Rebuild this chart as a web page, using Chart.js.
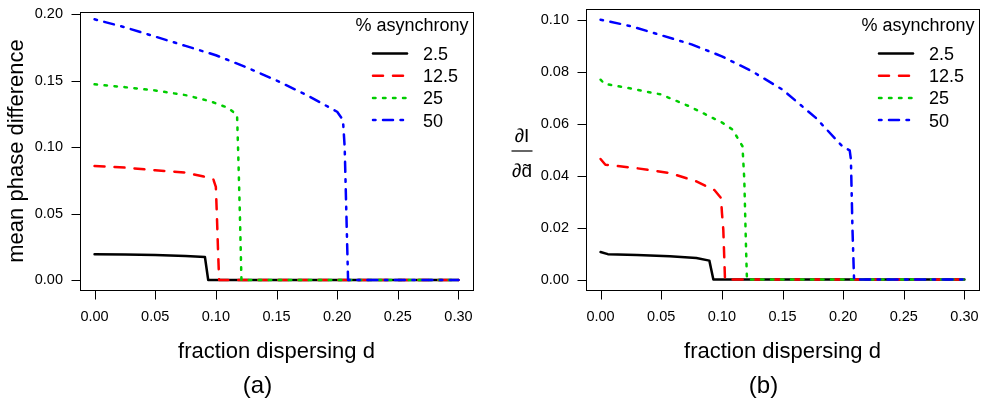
<!DOCTYPE html>
<html><head><meta charset="utf-8">
<script src="https://cdn.jsdelivr.net/npm/chart.js@4.4.1/dist/chart.umd.min.js"></script>
<style>
html,body{margin:0;padding:0;background:#fff;}
#wrap{position:relative;width:983px;height:401px;overflow:hidden;}
canvas{position:absolute;top:0;}
</style></head><body>
<div id="wrap">
<canvas id="ca" width="490" height="401" style="left:0px"></canvas>
<canvas id="cb" width="493" height="401" style="left:490px"></canvas>
</div>
<script>
// ---------- data ----------
const seriesLabels = ['2.5', '12.5', '25', '50'];
const xTicks = [0, 0.05, 0.10, 0.15, 0.20, 0.25, 0.30];
const yTicksA = [0, 0.05, 0.10, 0.15, 0.20];
const yTicksB = [0, 0.02, 0.04, 0.06, 0.08, 0.10];
const xTitle = 'fraction dispersing d';
const yTitleA = 'mean phase difference';

// panel (a): mean phase difference
const aX1 = [0, 0.025, 0.05, 0.075, 0.091, 0.0937, 0.30];
const aY1 = [0.0193, 0.0191, 0.0188, 0.0181, 0.0173, 0, 0];
const aX2 = [0, 0.025, 0.05, 0.075, 0.09, 0.098, 0.100, 0.1008, 0.1017, 0.1027, 0.30];
const aY2 = [0.0857, 0.0845, 0.0825, 0.0808, 0.0778, 0.0755, 0.070, 0.05, 0.025, 0, 0];
const aX3 = [0, 0.025, 0.05, 0.075, 0.095, 0.11, 0.1175, 0.1186, 0.1198, 0.1211, 0.30];
const aY3 = [0.1471, 0.1450, 0.1425, 0.1390, 0.1345, 0.1295, 0.1240, 0.09, 0.05, 0, 0];
const aX4 = [0, 0.025, 0.05, 0.075, 0.10, 0.125, 0.15, 0.175, 0.20, 0.2048, 0.2062, 0.2076, 0.209, 0.30];
const aY4 = [0.1960, 0.1900, 0.1830, 0.1760, 0.1690, 0.1600, 0.1500, 0.1390, 0.1265, 0.1203, 0.10, 0.05, 0, 0];

// panel (b): dI / d d~
const bX1 = [0, 0.006, 0.03, 0.057, 0.079, 0.0897, 0.093, 0.30];
const bY1 = [0.0106, 0.0098, 0.0095, 0.0090, 0.0083, 0.0073, 0, 0];
const bX2 = [0, 0.004, 0.029, 0.057, 0.079, 0.094, 0.0993, 0.1001, 0.1012, 0.1026, 0.30];
const bY2 = [0.0464, 0.0442, 0.0429, 0.0410, 0.0378, 0.0344, 0.0314, 0.0256, 0.0192, 0, 0];
const bX3 = [0, 0.0033, 0.025, 0.05, 0.073, 0.1006, 0.1089, 0.117, 0.1185, 0.1199, 0.1207, 0.30];
const bY3 = [0.0769, 0.0753, 0.0735, 0.0712, 0.0667, 0.0603, 0.0577, 0.0513, 0.0385, 0.0128, 0, 0];
const bX4 = [0, 0.025, 0.05, 0.075, 0.10, 0.125, 0.15, 0.1775, 0.1993, 0.2054, 0.2064, 0.2077, 0.209, 0.30];
const bY4 = [0.1000, 0.0975, 0.0940, 0.0905, 0.0859, 0.0801, 0.0731, 0.0622, 0.0513, 0.0497, 0.0462, 0.0192, 0, 0];

// ---------- styles ----------
const colors = ['#000000', '#FF0000', '#00CD00', '#0000FF'];
const dashes = [[], [10, 10], [2.5, 7.5], [2.5, 7.5, 10, 7.5]];
const LW = 2.5;
const FONT = "'Liberation Sans', Arial, Helvetica, sans-serif";
Chart.defaults.font.family = FONT;
Chart.defaults.color = '#000';

function pts(xs, ys) { return xs.map((x, i) => ({ x: x, y: ys[i] })); }
function makeDatasets(xsList, ysList) {
  return xsList.map((xs, i) => ({
    label: seriesLabels[i],
    data: pts(xs, ysList[i]),
    borderColor: colors[i],
    backgroundColor: colors[i],
    borderWidth: LW,
    borderDash: dashes[i],
    borderCapStyle: 'round',
    borderJoinStyle: 'round',
    pointRadius: 0,
    tension: 0,
    fill: false,
    order: 3 - i
  }));
}

const rstyle = {
  id: 'rstyle',
  afterDraw(chart, args, opts) {
    const ctx = chart.ctx, a = chart.chartArea;
    const sx = chart.scales.x, sy = chart.scales.y;
    ctx.save();
    ctx.strokeStyle = '#000'; ctx.lineWidth = 1; ctx.setLineDash([]); ctx.lineCap = 'butt';
    const L = Math.round(a.left) + 0.5, R = Math.round(a.right) + 0.5;
    const T = Math.round(a.top) + 0.5, B = Math.round(a.bottom) + 0.5;
    ctx.strokeRect(L, T, R - L, B - T);
    ctx.beginPath();
    sx.ticks.forEach(t => { const p = Math.round(sx.getPixelForValue(t.value)) + 0.5; ctx.moveTo(p, B); ctx.lineTo(p, B + 9); });
    sy.ticks.forEach(t => { const p = Math.round(sy.getPixelForValue(t.value)) + 0.5; ctx.moveTo(L, p); ctx.lineTo(L - 9, p); });
    ctx.stroke();

    // legend
    ctx.fillStyle = '#000';
    ctx.font = '18px ' + FONT;
    ctx.textBaseline = 'alphabetic';
    ctx.textAlign = 'right';
    ctx.fillText('% asynchrony', a.right - 4.5, 31);
    ctx.textAlign = 'left';
    chart.data.datasets.forEach((ds, i) => {
      const base = 60 + 22.2 * i;
      const ly = base - 6.5;
      ctx.save();
      ctx.strokeStyle = ds.borderColor; ctx.lineWidth = ds.borderWidth;
      ctx.setLineDash(ds.borderDash); ctx.lineCap = 'round';
      ctx.beginPath(); ctx.moveTo(a.right - 100, ly); ctx.lineTo(a.right - 66, ly); ctx.stroke();
      ctx.restore();
      ctx.fillText(ds.label, a.right - 50, base);
    });

    // panel label
    ctx.font = '24px ' + FONT;
    ctx.textAlign = 'center';
    ctx.fillText(opts.panel, (a.left + a.right) / 2 - 19, 393);

    // fraction y label
    if (opts.fraction) {
      const cx = a.left - 64;
      ctx.font = '19px ' + FONT;
      ctx.textAlign = 'center';
      ctx.fillText(opts.fraction[0], cx, 141.5);
      ctx.fillText(opts.fraction[1], cx, 177);
      ctx.lineWidth = 1.2;
      ctx.beginPath(); ctx.moveTo(cx - 10.5, 151); ctx.lineTo(cx + 10.5, 151); ctx.stroke();
    }
    ctx.restore();
  }
};

function makeChart(id, datasets, yMin, yMax, yTicks, yWidth, padTop, padRight, yTitle, panel, fraction) {
  return new Chart(document.getElementById(id), {
    type: 'line',
    data: { datasets: datasets },
    options: {
      responsive: false, animation: false, devicePixelRatio: 1,
      layout: { padding: { top: padTop, right: padRight, left: 0, bottom: 0 } },
      plugins: { legend: { display: false }, tooltip: { enabled: false },
        rstyle: { panel: panel, fraction: fraction } },
      scales: {
        x: {
          type: 'linear', min: -0.012, max: 0.312,
          afterBuildTicks: s => { s.ticks = xTicks.map(v => ({ value: v })); },
          afterFit: s => { s.height = 111; s.paddingLeft = 0; s.paddingRight = 0; s.paddingTop = 0; s.paddingBottom = 0; },
          grid: { display: false, drawTicks: false }, border: { display: false },
          ticks: { padding: 18, font: { size: 14.5 }, color: '#000', maxRotation: 0, autoSkip: false,
            callback: v => Number(v).toFixed(2) },
          title: { display: true, text: xTitle, font: { size: 22 }, color: '#000', padding: { top: 0, bottom: 36 } }
        },
        y: {
          type: 'linear', min: yMin, max: yMax,
          afterBuildTicks: s => { s.ticks = yTicks.map(v => ({ value: v })); },
          afterFit: s => { s.width = yWidth; s.paddingLeft = 0; s.paddingRight = 0; s.paddingTop = 0; s.paddingBottom = 0; },
          grid: { display: false, drawTicks: false }, border: { display: false },
          ticks: { padding: 17, font: { size: 14.5 }, color: '#000', autoSkip: false,
            callback: v => Number(v).toFixed(2) },
          title: { display: !!yTitle, text: yTitle || '', font: { size: 22 }, color: '#000', padding: { top: 4, bottom: 0 } }
        }
      }
    },
    plugins: [rstyle]
  });
}

makeChart('ca', makeDatasets([aX1, aX2, aX3, aX4], [aY1, aY2, aY3, aY4]),
  -0.0075, 0.2015, yTicksA, 80, 12, 17, yTitleA, '(a)', null);
makeChart('cb', makeDatasets([bX1, bX2, bX3, bX4], [bY1, bY2, bY3, bY4]),
  -0.004, 0.1041, yTicksB, 96, 9, 4, null, '(b)', ['\u2202I', '\u2202d\u0303']);
</script>
</body></html>
